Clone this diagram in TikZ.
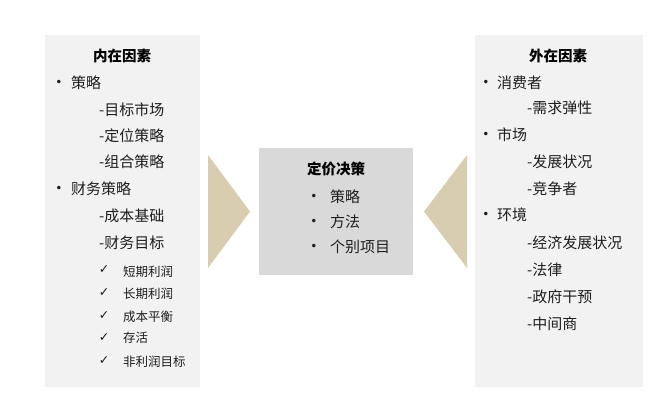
\documentclass[tikz,border=0pt]{standalone}
\usepackage{fontspec}
\setmainfont{Noto Sans CJK SC}
\newfontfamily\symfont{DejaVu Sans}
\definecolor{panel}{HTML}{F2F2F2}
\definecolor{centerbox}{HTML}{D9D9D9}
\definecolor{tan}{HTML}{D9CDB1}
\definecolor{ink}{HTML}{1E1E1E}
\tikzset{
  item/.style={anchor=west, inner sep=0pt, text=ink, font=\fontsize{15}{16}\selectfont},
  small/.style={anchor=west, inner sep=0pt, text=ink, font=\fontsize{12.5}{14}\selectfont},
  title/.style={anchor=center, inner sep=0pt, text=black, font=\fontsize{14.5}{16}\selectfont\bfseries},
  bul/.style={anchor=center, inner sep=0pt, text=ink, font=\symfont\fontsize{12}{13}\selectfont},
  chk/.style={anchor=center, inner sep=0pt, text=ink, font=\symfont\fontsize{12.5}{13}\selectfont},
  box/.style={draw=none, inner sep=0pt, anchor=north west},
}
\begin{document}
\begin{tikzpicture}[x=1pt,y=-1pt]
\useasboundingbox (0,0) rectangle (663,408);
\fill[white] (0,0) rectangle (663,408);
% panels
\node[box, fill=panel, minimum width=155pt, minimum height=352pt] (left) at (45,35) {};
\node[box, fill=panel, minimum width=168pt, minimum height=352pt] (right) at (475,35) {};
\node[box, fill=centerbox, minimum width=154pt, minimum height=127pt] (mid) at (259,148) {};
% triangles
\coordinate (lt1) at (208,155);
\coordinate (lt2) at (208,268);
\coordinate (ltip) at (250,211.5);
\fill[tan] (lt1) -- (ltip) -- (lt2) -- cycle;
\coordinate (rt1) at (467,155);
\coordinate (rt2) at (467,268);
\coordinate (rtip) at (424,211.5);
\fill[tan] (rt1) -- (rtip) -- (rt2) -- cycle;
% left panel
\node[title] (lt) at (122,56) {内在因素};
\node[bul] (lb1) at (59,83) {•};
\node[item] (l1) at (71,83) {策略};
\node[item] (l2) at (99,110) {-目标市场};
\node[item] (l3) at (99,136) {-定位策略};
\node[item] (l4) at (99,162) {-组合策略};
\node[bul] (lb2) at (59,189) {•};
\node[item] (l5) at (71,189) {财务策略};
\node[item] (l6) at (99,216) {-成本基础};
\node[item] (l7) at (99,243) {-财务目标};
\node[chk] (c1) at (104,270) {✓};
\node[small] (l8) at (123,272) {短期利润};
\node[chk] (c2) at (104,293) {✓};
\node[small] (l9) at (123,294) {长期利润};
\node[chk] (c3) at (104,316) {✓};
\node[small] (l10) at (123,317) {成本平衡};
\node[chk] (c4) at (104,338) {✓};
\node[small] (l11) at (123,338) {存活};
\node[chk] (c5) at (104,361) {✓};
\node[small] (l12) at (123,362) {非利润目标};
% center
\node[title] (mt) at (336,169) {定价决策};
\node[bul] (mb1) at (314,197) {•};
\node[item] (m1) at (330,197) {策略};
\node[bul] (mb2) at (314,222) {•};
\node[item] (m2) at (330,222) {方法};
\node[bul] (mb3) at (314,247) {•};
\node[item] (m3) at (330,247) {个别项目};
% right panel
\node[title] (rtt) at (558,56) {外在因素};
\node[bul] (rb1) at (486,83) {•};
\node[item] (r1) at (497,83) {消费者};
\node[item] (r2) at (527,108) {-需求弹性};
\node[bul] (rb2) at (486,135) {•};
\node[item] (r3) at (497,135) {市场};
\node[item] (r4) at (527,162) {-发展状况};
\node[item] (r5) at (527,189) {-竞争者};
\node[bul] (rb3) at (486,215) {•};
\node[item] (r6) at (497,215) {环境};
\node[item] (r7) at (527,243) {-经济发展状况};
\node[item] (r8) at (527,270) {-法律};
\node[item] (r9) at (527,297) {-政府干预};
\node[item] (r10) at (527,324) {-中间商};
\end{tikzpicture}
\end{document}
